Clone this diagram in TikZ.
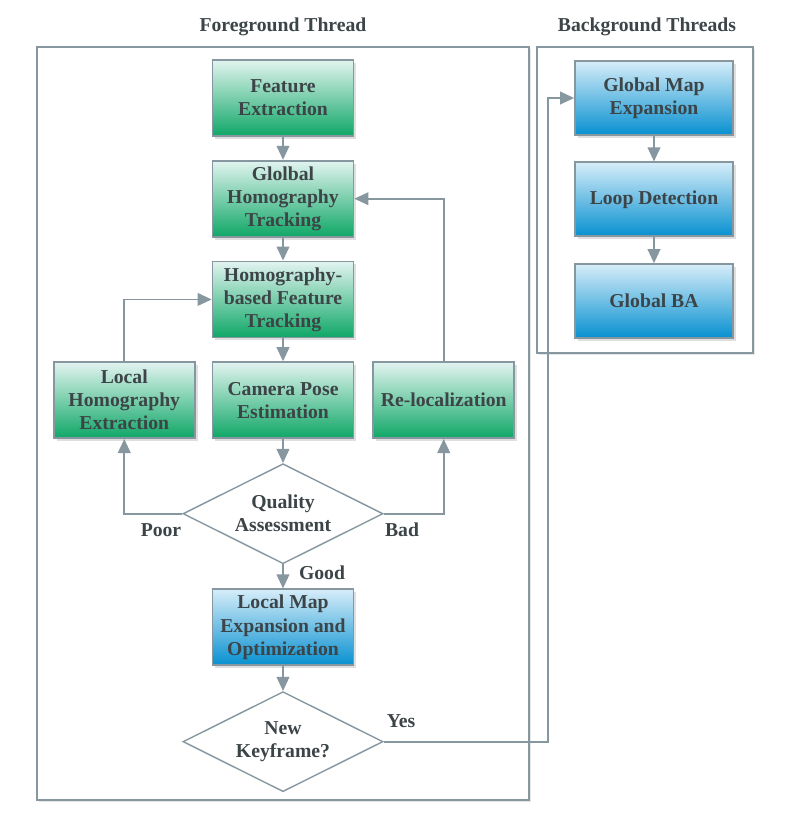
\documentclass[tikz,border=0pt]{standalone}
\usepackage{fontspec}
\setmainfont{Liberation Serif}
\usepackage{tikz}
\usetikzlibrary{positioning,shapes.geometric,shadows,arrows.meta}
\definecolor{linegray}{HTML}{8797A0}
\definecolor{txtgray}{HTML}{3C4447}
\definecolor{greentop}{HTML}{E2F4F0}
\definecolor{greenbot}{HTML}{0FA766}
\definecolor{bluetop}{HTML}{D6EDF9}
\definecolor{bluebot}{HTML}{0790D0}
\tikzstyle{stage}=[draw=linegray,line width=1.2pt,top color=greentop,bottom color=greenbot,
  minimum width=3.525cm,minimum height=1.9cm,align=center,inner sep=2pt,
  text=txtgray,font=\bfseries\fontsize{14}{16.4}\selectfont,
  drop shadow={opacity=0.25,shadow xshift=2pt,shadow yshift=-2pt}]
\tikzstyle{mapstage}=[stage,top color=bluetop,bottom color=bluebot]
\tikzstyle{check}=[diamond,draw=linegray,line width=1pt,fill=white,aspect=2,
  minimum width=5cm,minimum height=2.5cm,inner sep=0pt,align=center,
  text=txtgray,font=\bfseries\fontsize{14}{16.4}\selectfont]
\tikzstyle{frame}=[draw=linegray,line width=1pt,fill=white,
  drop shadow={opacity=0.2,shadow xshift=1.5pt,shadow yshift=-1.5pt}]
\tikzstyle{lbl}=[text=txtgray,font=\bfseries\fontsize{14}{16.4}\selectfont,inner sep=0pt]

\begin{document}
\begin{tikzpicture}[x=0.025cm,y=-0.025cm]
\tikzstyle{flow}=[-{Triangle[length=10pt,width=9pt]},draw=linegray,line width=1.3pt]
\useasboundingbox (0,0) rectangle (809,829);
% thread frames
\path[frame] (37,47) rectangle (529,800);
\path[frame] (537,47) rectangle (753,353);
\node (fgtitle) [lbl] at (283,27) {Foreground Thread};
\node (bgtitle) [lbl] at (647,27) {Background Threads};

% foreground thread
\node (FE) [stage] at (283,98) {Feature\\Extraction};
\node (GHT) [stage,below=0.575cm of FE] {Glolbal\\Homography\\Tracking};
\node (HFT) [stage,below=0.575cm of GHT] {Homography-\\based Feature\\Tracking};
\node (CPE) [stage,below=0.575cm of HFT] {Camera Pose\\Estimation};
\node (LHE) [stage,left=0.4cm of CPE] {Local\\Homography\\Extraction};
\node (REL) [stage,right=0.45cm of CPE] {Re-localization};
\node (QA) [check,below=0.6cm of CPE] {Quality\\Assessment};
\node (LME) [mapstage,below=0.6cm of QA] {Local Map\\Expansion and\\Optimization};
\node (NK) [check,below=0.62cm of LME] {New\\Keyframe?};

% background threads
\node (GME) [mapstage,minimum width=3.95cm,minimum height=1.85cm] at (654,98) {Global Map\\Expansion};
\node (LD) [mapstage,minimum width=3.95cm,minimum height=1.85cm,below=0.64cm of GME] {Loop Detection};
\node (GBA) [mapstage,minimum width=3.95cm,minimum height=1.85cm,below=0.65cm of LD] {Global BA};
\coordinate (yesbend) at (548,98);

\node (poor) [lbl] at (161,530) {Poor};
\node (bad) [lbl] at (402,530) {Bad};
\node (good) [lbl] at (322,573) {Good};
\node (yes) [lbl] at (401,721) {Yes};

\draw[flow] (FE.south) -- (GHT.north);
\draw[flow] (GHT.south) -- (HFT.north);
\draw[flow] (HFT.south) -- (CPE.north);
\draw[flow] (CPE.south) -- (QA.north);
\draw[flow] (QA.west) -| (LHE.south);
\draw[flow] (QA.east) -| (REL.south);
\draw[flow] (LHE.north) |- (HFT.west);
\draw[flow] (REL.north) |- (GHT.east);
\draw[flow] (QA.south) -- (LME.north);
\draw[flow] (LME.south) -- (NK.north);
\draw[flow] (NK.east) -| (yesbend) -- (GME.west);
\draw[flow] (GME.south) -- (LD.north);
\draw[flow] (LD.south) -- (GBA.north);
\end{tikzpicture}
\end{document}
